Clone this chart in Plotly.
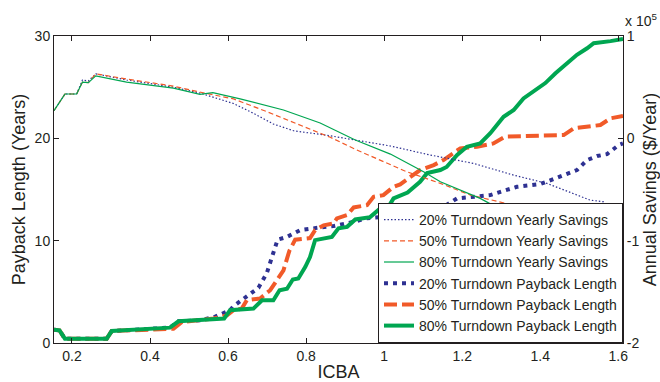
import plotly.graph_objects as go

# ---------------- data ----------------
# Annual savings ($/year) vs ICBA, thin lines (right axis)
x_sav20 = [0.154, 0.182, 0.212, 0.227, 0.242, 0.261, 0.34, 0.46, 0.53, 0.614, 0.665, 0.716, 0.768,
           0.819, 0.862, 0.926, 1.016, 1.118, 1.229, 1.332, 1.417, 1.528, 1.562, 1.580, 1.612]
sav20 = [27000, 43300, 43300, 57000, 56000, 63000, 57000, 50000, 44000, 34000, 24500, 14000, 7400,
         4900, 2500, -1700, -7500, -16300, -24500, -36000, -44000, -60400, -62000, -70200, -73400]

x_sav50 = [0.154, 0.182, 0.212, 0.227, 0.242, 0.261, 0.34, 0.46, 0.53, 0.614, 0.70, 0.785, 0.862,
           0.930, 1.058, 1.144, 1.221, 1.332, 1.460, 1.528, 1.612]
sav50 = [27000, 43300, 43300, 55000, 54400, 63000, 58000, 51000, 45000, 38500, 26000, 13000, 1000,
         -11400, -32700, -44000, -55500, -65300, -75000, -81600, -90000]

x_sav80 = [0.154, 0.182, 0.212, 0.227, 0.242, 0.261, 0.34, 0.46, 0.528, 0.561, 0.631, 0.742, 0.836,
           0.926, 1.016, 1.101, 1.144, 1.246, 1.357, 1.45, 1.612]
sav80 = [27000, 43300, 43300, 55000, 54400, 61000, 55000, 49000, 43000, 44600, 38500, 27700, 15000,
         -1700, -15400, -32700, -42500, -58700, -81600, -100000, -130000]

# Payback length (years) vs ICBA, thick lines (left axis)
x_pb20 = [0.154, 0.168, 0.182, 0.289, 0.302, 0.451, 0.473, 0.528, 0.567, 0.605, 0.614, 0.648, 0.678,
          0.699, 0.712, 0.727, 0.751, 0.785, 0.836, 0.870, 0.922, 0.956, 1.007, 1.041, 1.058, 1.127,
          1.152, 1.187, 1.246, 1.272, 1.298, 1.340, 1.400, 1.426, 1.460, 1.494, 1.520, 1.546, 1.571,
          1.601, 1.612]
pb20 = [1.3, 1.24, 0.42, 0.42, 1.17, 1.5, 2.12, 2.22, 2.57, 3.2, 3.6, 4.5, 5.4,
        6.8, 8.4, 10.1, 10.37, 11.03, 11.29, 11.42, 11.84, 12.2, 12.33, 12.66, 12.82, 13.25,
        13.3, 14.13, 14.29, 14.45, 14.77, 15.26, 15.53, 15.92, 16.4, 16.9, 17.88, 18.27, 18.46,
        19.34, 19.5]

x_pb50 = [0.154, 0.168, 0.182, 0.289, 0.302, 0.451, 0.460, 0.482, 0.563, 0.597, 0.614, 0.635, 0.648,
          0.682, 0.708, 0.725, 0.742, 0.757, 0.772, 0.810, 0.823, 0.845, 0.870, 0.879, 0.905, 0.922,
          0.956, 0.973, 0.998, 1.024, 1.041, 1.092, 1.127, 1.152, 1.195, 1.238, 1.280, 1.310, 1.374,
          1.460, 1.486, 1.554, 1.580, 1.612]
pb50 = [1.3, 1.24, 0.42, 0.42, 1.17, 1.3, 1.4, 2.05, 2.39, 2.7, 3.2, 3.36, 4.18,
        4.35, 5.16, 6.13, 7.1, 9.0, 10.1, 10.25, 11.03, 11.5, 11.68, 12.17, 12.5, 13.25,
        13.47, 14.29, 14.45, 15.26, 15.5, 16.9, 17.39, 17.88, 19.02, 19.18, 19.5, 20.16, 20.22,
        20.32, 20.98, 21.3, 21.96, 22.18]

x_pb80 = [0.154, 0.168, 0.182, 0.289, 0.302, 0.451, 0.473, 0.528, 0.590, 0.605, 0.665, 0.687, 0.716,
          0.732, 0.751, 0.766, 0.780, 0.798, 0.810, 0.823, 0.866, 0.883, 0.905, 0.926, 0.964, 0.990,
          1.011, 1.024, 1.041, 1.060, 1.092, 1.110, 1.144, 1.160, 1.187, 1.212, 1.246, 1.272, 1.306,
          1.332, 1.357, 1.383, 1.413, 1.439, 1.469, 1.494, 1.520, 1.537, 1.580, 1.612]
pb80 = [1.3, 1.24, 0.42, 0.42, 1.17, 1.5, 2.12, 2.22, 2.39, 3.2, 3.36, 4.18, 4.18,
        5.16, 5.3, 6.2, 6.3, 7.44, 8.4, 10.05, 10.37, 11.2, 11.35, 12.07, 12.3, 13.15,
        13.3, 14.13, 14.45, 14.7, 15.75, 16.6, 16.9, 17.2, 18.37, 19.18, 19.5, 20.5, 22.1,
        22.77, 23.9, 24.56, 25.4, 26.36, 27.34, 28.16, 28.8, 29.3, 29.5, 29.7]

names_sav = ["20% Turndown Yearly Savings", "50% Turndown Yearly Savings", "80% Turndown Yearly Savings"]
names_pb = ["20% Turndown Payback Length", "50% Turndown Payback Length", "80% Turndown Payback Length"]

x_ticks = [0.2, 0.4, 0.6, 0.8, 1.0, 1.2, 1.4, 1.6]
x_ticklabels = ["0.2", "0.4", "0.6", "0.8", "1", "1.2", "1.4", "1.6"]
y_ticks = [0, 10, 20, 30]
y2_ticks = [-200000, -100000, 0, 100000]
y2_ticklabels = ["-2", "-1", "0", "1"]

# ---------------- style ----------------
FONT = "Liberation Sans, Arial, Helvetica, sans-serif"
INK = "#231F20"
BLUE = "#2E3192"
RED = "#F15A29"
GREEN = "#00A651"

fig = go.Figure()

sav_series = [(x_sav20, sav20, BLUE, "1.5px,2px"), (x_sav50, sav50, RED, "5px,3px"), (x_sav80, sav80, GREEN, "solid")]
for name, (xs, ys, col, dash) in zip(names_sav, sav_series):
    fig.add_trace(go.Scatter(x=xs, y=ys, yaxis="y2", mode="lines", name=name,
                             line=dict(color=col, width=1.2, dash=dash)))

pb_series = [(x_pb20, pb20, BLUE, "4px,5px"), (x_pb50, pb50, RED, "13px,5px"), (x_pb80, pb80, GREEN, "solid")]
for name, (xs, ys, col, dash) in zip(names_pb, pb_series):
    fig.add_trace(go.Scatter(x=xs, y=ys, yaxis="y", mode="lines", name=name,
                             line=dict(color=col, width=4, dash=dash)))

axis_common = dict(showgrid=False, zeroline=False, showline=True, linecolor=INK, linewidth=1,
                   ticks="inside", ticklen=5, tickcolor=INK, tickfont=dict(size=14, color=INK),
                   automargin=False)

fig.update_layout(
    width=660, height=382,
    margin=dict(l=54, r=37, t=36, b=39),
    paper_bgcolor="white", plot_bgcolor="white",
    font=dict(family=FONT, size=14, color=INK),
    showlegend=True,
    xaxis=dict(range=[0.154, 1.612], tickvals=x_ticks, ticktext=x_ticklabels, mirror="ticks",
               title=dict(text="ICBA", font=dict(size=18), standoff=2), **axis_common),
    yaxis=dict(range=[0, 30], tickvals=y_ticks, mirror=True,
               title=dict(text="Payback Length (Years)", font=dict(size=18), standoff=4), **axis_common),
    yaxis2=dict(range=[-200000, 100000], tickvals=y2_ticks, ticktext=y2_ticklabels, overlaying="y",
                side="right",
                title=dict(text="Annual Savings ($/Year)", font=dict(size=18), standoff=4), **axis_common),
    legend=dict(x=1, y=0, xanchor="right", yanchor="bottom", bgcolor="white", bordercolor=INK,
                borderwidth=1, font=dict(size=14, color=INK), tracegroupgap=0),
    annotations=[dict(text="x 10<sup>5</sup>", xref="paper", yref="paper", x=1.0, y=1.0,
                      xanchor="left", yanchor="bottom", showarrow=False, font=dict(size=14, color=INK),
                      yshift=5)],
)

fig.write_html("out.html")
